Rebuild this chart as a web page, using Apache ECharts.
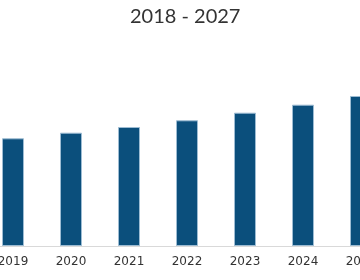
<!DOCTYPE html>
<html>
<head>
<meta charset="utf-8">
<script src="https://cdn.jsdelivr.net/npm/echarts@6/dist/echarts.min.js"></script>
<style>
html,body{margin:0;padding:0;background:#fff;overflow:hidden;width:360px;height:280px;}
#chart{position:absolute;left:-74px;top:0;width:580px;height:280px;}
</style>
</head>
<body>
<div id="chart"></div>
<script>
var titleText = '2018 - 2027';
var years = ['2018','2019','2020','2021','2022','2023','2024','2025','2026','2027'];
var values = [102, 107.7, 113.3, 119, 125.7, 133.3, 141.3, 150, 159, 168];

var chart = echarts.init(document.getElementById('chart'), null, {renderer:'canvas'});
chart.setOption({
  animation: false,
  backgroundColor: '#ffffff',
  title: {
    text: titleText,
    left: 199,
    top: 2,
    textStyle: {fontFamily: 'Lato', fontSize: 20, fontWeight: 'normal', color: '#333333'}
  },
  grid: {left: 0, right: 0, top: 46, bottom: 34, containLabel: false},
  xAxis: {
    type: 'category',
    data: years,
    axisLine: {show: true, lineStyle: {color: '#d9d9d9', width: 1}},
    axisTick: {show: false},
    axisLabel: {interval: 0, margin: 10, fontFamily: 'DejaVu Sans', fontSize: 12, color: '#333333'}
  },
  yAxis: {
    type: 'value', min: 0, max: 200, show: false,
    splitLine: {show: false}
  },
  series: [{
    type: 'bar',
    data: values,
    barWidth: 22,
    itemStyle: {color: '#0b4f7c', borderColor: '#9dbcd3', borderWidth: 1}
  }]
});
</script>
</body>
</html>
